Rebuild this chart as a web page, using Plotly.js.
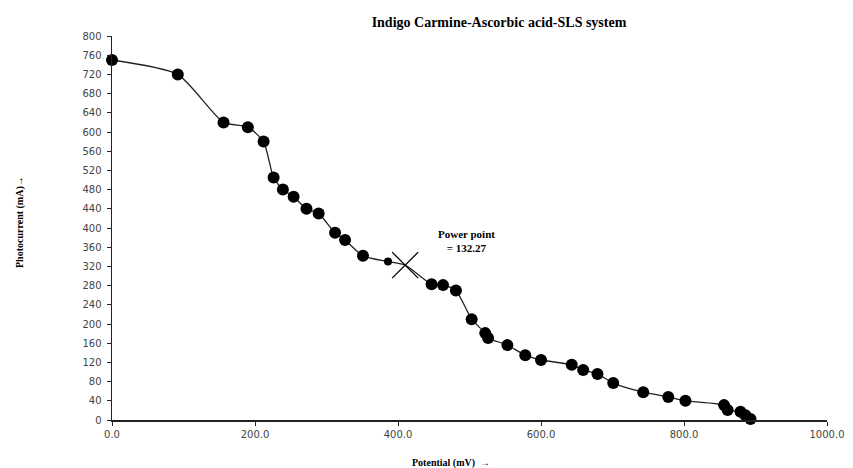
<!DOCTYPE html>
<html>
<head>
<meta charset="utf-8">
<script src="https://cdn.plot.ly/plotly-3.0.1.min.js"></script>
<style>html,body{margin:0;padding:0;background:#fff;}#chart{width:853px;height:468px;}</style>
</head>
<body>
<div id="chart"></div>
<script>
// Data
const potential = [0, 92, 156, 190, 212, 226, 239, 254, 272, 289, 312, 326, 351, 386, 447, 463, 481, 503, 522, 526, 553, 578, 600, 643, 659, 679, 701, 743, 778, 802, 856, 861, 879, 886, 893];
const photocurrent = [750, 720, 620, 610, 580, 505, 480, 465, 440, 430, 390, 375, 342, 330, 283, 281, 270, 210, 181, 171, 156, 135, 125, 115, 104, 96, 77, 58, 48, 40, 31, 21, 17, 10, 2];
const powerPointX = [410];
const powerPointY = [322.6];
const powerLabel = "Power point<br>= 132.27";
const yTicks = [0, 40, 80, 120, 160, 200, 240, 280, 320, 360, 400, 440, 480, 520, 560, 600, 640, 680, 720, 760, 800];
const xTicks = [0, 200, 400, 600, 800, 1000];
const xTitle = 'Potential (mV)  <b>→</b>';
const yTitle = 'Photocurrent (mA)<b>→</b>';

// Line passes through the power point
const lineX = potential.slice(0, 14).concat(powerPointX, potential.slice(14));
const lineY = photocurrent.slice(0, 14).concat(powerPointY, photocurrent.slice(14));
const sizes = potential.map((v, i) => i === 13 ? 8 : 12);

const traces = [
  {x: lineX, y: lineY, mode: 'lines', type: 'scatter',
   line: {color: '#222', width: 1.3, shape: 'spline', smoothing: 0.6},
   hoverinfo: 'skip', cliponaxis: false, showlegend: false},
  {x: potential, y: photocurrent, mode: 'markers', type: 'scatter',
   marker: {color: '#000', size: sizes, symbol: 'circle', opacity: 1, line: {width: 0}},
   opacity: 1, cliponaxis: false, showlegend: false},
  {x: powerPointX, y: powerPointY, mode: 'markers', type: 'scatter',
   marker: {color: '#000', size: 26, symbol: 'x-thin-open', opacity: 1, line: {color: '#000', width: 1.3}},
   cliponaxis: false, showlegend: false}
];

const layout = {
  width: 853, height: 468,
  margin: {l: 112, r: 26, t: 36, b: 48},
  paper_bgcolor: '#fff', plot_bgcolor: '#fff',
  title: {text: 'Indigo Carmine-Ascorbic acid-SLS system',
    font: {family: 'Liberation Serif', size: 14, color: '#000', weight: 'bold'},
    x: 0.585, xanchor: 'center', y: 0.953, yanchor: 'middle'},
  xaxis: {range: [0, 1000], tickvals: xTicks, ticktext: xTicks.map(v => v.toFixed(1)),
    showgrid: false, zeroline: false, showline: true, linecolor: '#222', linewidth: 1.5,
    ticks: 'outside', ticklen: 4, tickcolor: '#222',
    tickfont: {family: 'DejaVu Sans', size: 10, color: '#444'}},
  yaxis: {range: [0, 800], tickvals: yTicks,
    showgrid: false, zeroline: false, showline: true, linecolor: '#222', linewidth: 1.5,
    ticks: 'outside', ticklen: 4, tickcolor: '#222', ticklabelstandoff: 3,
    tickfont: {family: 'DejaVu Sans', size: 10, color: '#444'}},
  annotations: [
    {x: powerPointX[0] + 86, y: powerPointY[0] + 51, xref: 'x', yref: 'y',
     text: powerLabel, showarrow: false, align: 'center',
     font: {family: 'Liberation Serif', size: 11, color: '#000', weight: 'bold'}},
    {x: 451, y: 463, xref: 'paper', yref: 'paper', text: xTitle, showarrow: false,
     xanchor: 'center', yanchor: 'middle',
     font: {family: 'Liberation Serif', size: 10, color: '#000', weight: 'bold'}},
    {x: 20, y: 222, text: yTitle, showarrow: false, textangle: -90,
     xanchor: 'center', yanchor: 'middle',
     font: {family: 'Liberation Serif', size: 10, color: '#000', weight: 'bold'}}
  ]
};
// convert pixel placement of the axis titles into paper coordinates
const pw = 853 - 112 - 26, ph = 468 - 36 - 48;
layout.annotations[1].x = (451 - 112) / pw; layout.annotations[1].y = (420 - 463) / ph;
layout.annotations[2].xref = 'paper'; layout.annotations[2].yref = 'paper';
layout.annotations[2].x = (20 - 112) / pw; layout.annotations[2].y = (420 - 222) / ph;

Plotly.newPlot('chart', traces, layout, {displayModeBar: false, staticPlot: true});
</script>
</body>
</html>
